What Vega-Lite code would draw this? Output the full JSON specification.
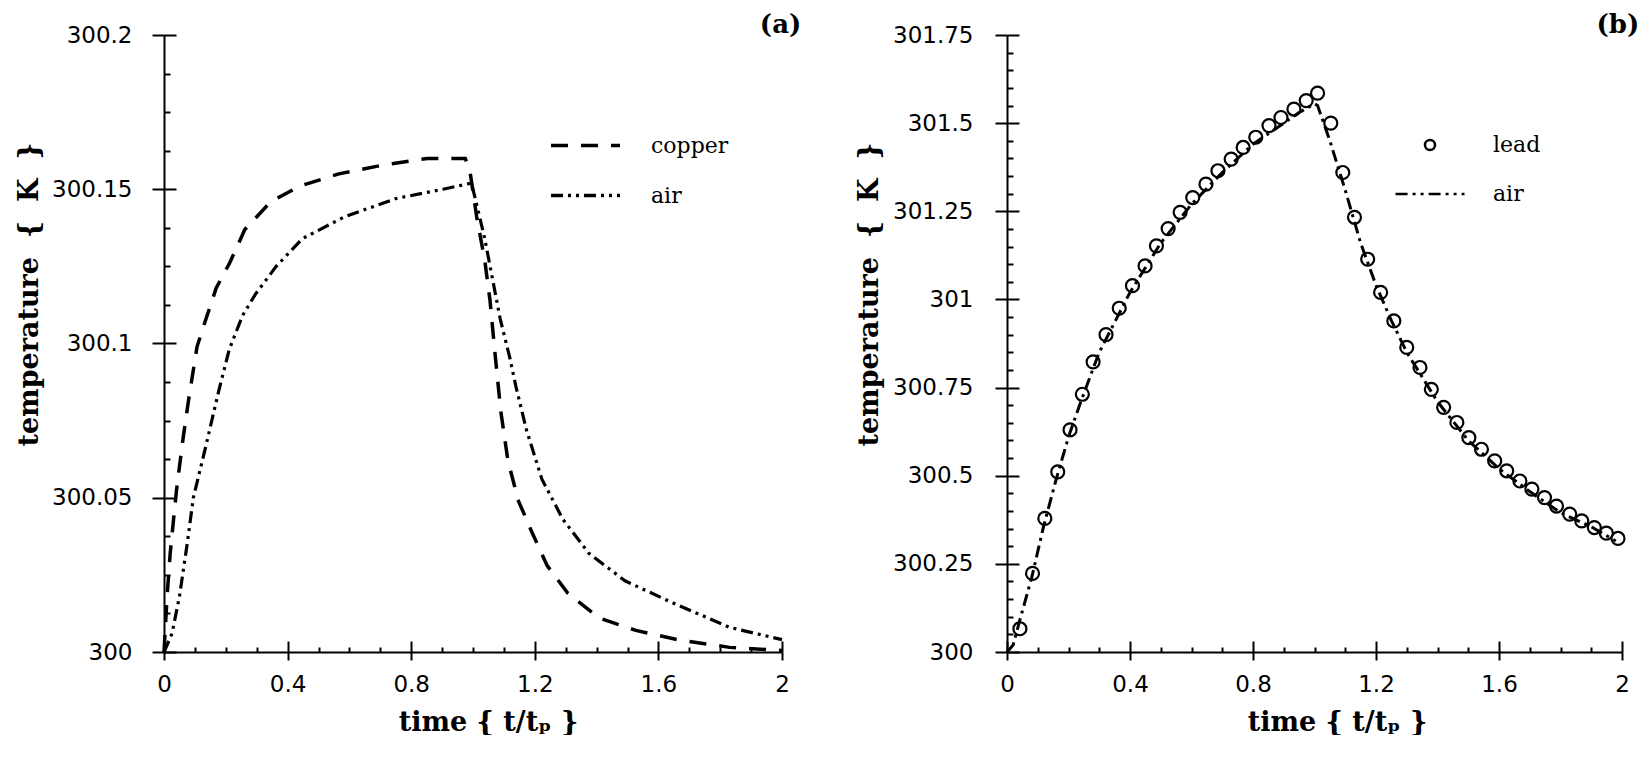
{
  "$schema": "https://vega.github.io/schema/vega-lite/v6.json",
  "background": "white",
  "padding": {"left": 14, "top": 12, "right": 0, "bottom": 0},
  "bounds": "flush",
  "spacing": 225,
  "config": {
    "view": {"stroke": null},
    "axis": {
      "grid": false,
      "domainColor": "black",
      "domainWidth": 2,
      "tickColor": "black",
      "tickWidth": 2,
      "labelColor": "black",
      "labelFont": "DejaVu Sans",
      "labelFontSize": 23,
      "labelOverlap": false,
      "labelFlush": false,
      "titleColor": "black",
      "titleFont": "DejaVu Serif",
      "titleFontWeight": "bold",
      "titleFontSize": 27
    },
    "legend": {
      "labelColor": "black",
      "labelFont": "DejaVu Serif",
      "labelFontSize": 22,
      "padding": 0
    },
    "title": {
      "font": "DejaVu Serif",
      "fontWeight": "bold",
      "fontSize": 26,
      "color": "black",
      "anchor": "end",
      "offset": -14
    }
  },
  "datasets": {
    "panelA": [
      {"series": "copper", "time": 0, "temp": 300.0},
      {"series": "copper", "time": 0.01, "temp": 300.018},
      {"series": "copper", "time": 0.02, "temp": 300.032},
      {"series": "copper", "time": 0.04, "temp": 300.052},
      {"series": "copper", "time": 0.06, "temp": 300.068},
      {"series": "copper", "time": 0.08, "temp": 300.082},
      {"series": "copper", "time": 0.107, "temp": 300.099},
      {"series": "copper", "time": 0.136, "temp": 300.108},
      {"series": "copper", "time": 0.169, "temp": 300.118},
      {"series": "copper", "time": 0.212, "temp": 300.126},
      {"series": "copper", "time": 0.262, "temp": 300.137},
      {"series": "copper", "time": 0.346, "temp": 300.146},
      {"series": "copper", "time": 0.439, "temp": 300.151},
      {"series": "copper", "time": 0.566, "temp": 300.155},
      {"series": "copper", "time": 0.717, "temp": 300.158},
      {"series": "copper", "time": 0.852, "temp": 300.16},
      {"series": "copper", "time": 0.953, "temp": 300.16},
      {"series": "copper", "time": 0.975, "temp": 300.16},
      {"series": "copper", "time": 0.99, "temp": 300.156},
      {"series": "copper", "time": 1.012, "temp": 300.141},
      {"series": "copper", "time": 1.038, "temp": 300.127},
      {"series": "copper", "time": 1.055, "temp": 300.114},
      {"series": "copper", "time": 1.07, "temp": 300.098},
      {"series": "copper", "time": 1.09, "temp": 300.078},
      {"series": "copper", "time": 1.113, "temp": 300.062},
      {"series": "copper", "time": 1.147, "temp": 300.049},
      {"series": "copper", "time": 1.19, "temp": 300.039},
      {"series": "copper", "time": 1.24, "temp": 300.028},
      {"series": "copper", "time": 1.307, "temp": 300.019},
      {"series": "copper", "time": 1.409, "temp": 300.011},
      {"series": "copper", "time": 1.527, "temp": 300.007},
      {"series": "copper", "time": 1.662, "temp": 300.004},
      {"series": "copper", "time": 1.83, "temp": 300.0015},
      {"series": "copper", "time": 2.0, "temp": 300.0005},
      {"series": "air", "time": 0, "temp": 300.0},
      {"series": "air", "time": 0.026, "temp": 300.006},
      {"series": "air", "time": 0.05, "temp": 300.018},
      {"series": "air", "time": 0.075, "temp": 300.035},
      {"series": "air", "time": 0.095, "temp": 300.05},
      {"series": "air", "time": 0.136, "temp": 300.067},
      {"series": "air", "time": 0.178, "temp": 300.085},
      {"series": "air", "time": 0.211, "temp": 300.098},
      {"series": "air", "time": 0.254, "temp": 300.109},
      {"series": "air", "time": 0.296, "temp": 300.116},
      {"series": "air", "time": 0.363, "temp": 300.125},
      {"series": "air", "time": 0.448, "temp": 300.134},
      {"series": "air", "time": 0.583, "temp": 300.141},
      {"series": "air", "time": 0.751, "temp": 300.147},
      {"series": "air", "time": 0.903, "temp": 300.15},
      {"series": "air", "time": 0.995, "temp": 300.152},
      {"series": "air", "time": 1.012, "temp": 300.145},
      {"series": "air", "time": 1.038, "temp": 300.134},
      {"series": "air", "time": 1.063, "temp": 300.121},
      {"series": "air", "time": 1.088, "temp": 300.108},
      {"series": "air", "time": 1.12, "temp": 300.095},
      {"series": "air", "time": 1.139, "temp": 300.086},
      {"series": "air", "time": 1.173, "temp": 300.072},
      {"series": "air", "time": 1.223, "temp": 300.056},
      {"series": "air", "time": 1.291, "temp": 300.043},
      {"series": "air", "time": 1.375, "temp": 300.032},
      {"series": "air", "time": 1.493, "temp": 300.023},
      {"series": "air", "time": 1.645, "temp": 300.016},
      {"series": "air", "time": 1.83, "temp": 300.008},
      {"series": "air", "time": 2.0, "temp": 300.004}
    ],
    "leadPts": [
      {"kind": "lead", "time": 0.042, "temp": 300.066},
      {"kind": "lead", "time": 0.083, "temp": 300.223},
      {"kind": "lead", "time": 0.123, "temp": 300.379},
      {"kind": "lead", "time": 0.165, "temp": 300.511},
      {"kind": "lead", "time": 0.205, "temp": 300.63},
      {"kind": "lead", "time": 0.245, "temp": 300.731},
      {"kind": "lead", "time": 0.28, "temp": 300.823},
      {"kind": "lead", "time": 0.322, "temp": 300.9},
      {"kind": "lead", "time": 0.365, "temp": 300.975},
      {"kind": "lead", "time": 0.408, "temp": 301.039},
      {"kind": "lead", "time": 0.449, "temp": 301.095},
      {"kind": "lead", "time": 0.486, "temp": 301.152},
      {"kind": "lead", "time": 0.524, "temp": 301.201},
      {"kind": "lead", "time": 0.563, "temp": 301.247},
      {"kind": "lead", "time": 0.604, "temp": 301.289},
      {"kind": "lead", "time": 0.647, "temp": 301.327},
      {"kind": "lead", "time": 0.686, "temp": 301.365},
      {"kind": "lead", "time": 0.729, "temp": 301.398},
      {"kind": "lead", "time": 0.768, "temp": 301.431},
      {"kind": "lead", "time": 0.809, "temp": 301.46},
      {"kind": "lead", "time": 0.852, "temp": 301.493},
      {"kind": "lead", "time": 0.891, "temp": 301.516},
      {"kind": "lead", "time": 0.933, "temp": 301.54},
      {"kind": "lead", "time": 0.973, "temp": 301.564},
      {"kind": "lead", "time": 1.01, "temp": 301.585},
      {"kind": "lead", "time": 1.053, "temp": 301.5},
      {"kind": "lead", "time": 1.092, "temp": 301.36},
      {"kind": "lead", "time": 1.13, "temp": 301.233},
      {"kind": "lead", "time": 1.173, "temp": 301.114},
      {"kind": "lead", "time": 1.215, "temp": 301.02},
      {"kind": "lead", "time": 1.258, "temp": 300.939},
      {"kind": "lead", "time": 1.3, "temp": 300.864},
      {"kind": "lead", "time": 1.343, "temp": 300.807},
      {"kind": "lead", "time": 1.38, "temp": 300.745},
      {"kind": "lead", "time": 1.42, "temp": 300.694},
      {"kind": "lead", "time": 1.463, "temp": 300.651},
      {"kind": "lead", "time": 1.502, "temp": 300.608},
      {"kind": "lead", "time": 1.543, "temp": 300.575},
      {"kind": "lead", "time": 1.586, "temp": 300.542},
      {"kind": "lead", "time": 1.625, "temp": 300.514},
      {"kind": "lead", "time": 1.668, "temp": 300.485},
      {"kind": "lead", "time": 1.707, "temp": 300.462},
      {"kind": "lead", "time": 1.748, "temp": 300.438},
      {"kind": "lead", "time": 1.787, "temp": 300.414},
      {"kind": "lead", "time": 1.83, "temp": 300.391},
      {"kind": "lead", "time": 1.869, "temp": 300.372},
      {"kind": "lead", "time": 1.91, "temp": 300.353},
      {"kind": "lead", "time": 1.949, "temp": 300.337},
      {"kind": "lead", "time": 1.987, "temp": 300.322}
    ],
    "airB": [
      {"kind": "air", "time": 0, "temp": 300.0},
      {"kind": "air", "time": 0.02, "temp": 300.02},
      {"kind": "air", "time": 0.04, "temp": 300.085},
      {"kind": "air", "time": 0.08, "temp": 300.21},
      {"kind": "air", "time": 0.12, "temp": 300.36},
      {"kind": "air", "time": 0.16, "temp": 300.49},
      {"kind": "air", "time": 0.2, "temp": 300.61},
      {"kind": "air", "time": 0.24, "temp": 300.71},
      {"kind": "air", "time": 0.3, "temp": 300.85},
      {"kind": "air", "time": 0.4, "temp": 301.02},
      {"kind": "air", "time": 0.5, "temp": 301.16},
      {"kind": "air", "time": 0.6, "temp": 301.27},
      {"kind": "air", "time": 0.7, "temp": 301.36},
      {"kind": "air", "time": 0.8, "temp": 301.44},
      {"kind": "air", "time": 0.9, "temp": 301.5},
      {"kind": "air", "time": 0.95, "temp": 301.53},
      {"kind": "air", "time": 1.0, "temp": 301.555},
      {"kind": "air", "time": 1.01, "temp": 301.55},
      {"kind": "air", "time": 1.05, "temp": 301.45},
      {"kind": "air", "time": 1.1, "temp": 301.31},
      {"kind": "air", "time": 1.15, "temp": 301.16},
      {"kind": "air", "time": 1.2, "temp": 301.04},
      {"kind": "air", "time": 1.25, "temp": 300.94},
      {"kind": "air", "time": 1.3, "temp": 300.85},
      {"kind": "air", "time": 1.4, "temp": 300.71},
      {"kind": "air", "time": 1.5, "temp": 300.6},
      {"kind": "air", "time": 1.6, "temp": 300.52},
      {"kind": "air", "time": 1.7, "temp": 300.455},
      {"kind": "air", "time": 1.8, "temp": 300.395},
      {"kind": "air", "time": 1.9, "temp": 300.355},
      {"kind": "air", "time": 1.98, "temp": 300.315}
    ]
  },
  "hconcat": [
    {
      "width": 618,
      "height": 617,
      "title": {"text": "(a)", "dx": 12},
      "data": {"name": "panelA"},
      "resolve": {"axis": {"x": "independent", "y": "independent"}},
      "layer": [
        {
          "transform": [{"filter": "datum.series == 'copper'"}],
          "mark": {"type": "line", "color": "black", "strokeWidth": 3.5},
          "encoding": {
            "x": {
              "field": "time", "type": "quantitative",
              "scale": {"domain": [0, 2], "nice": false, "zero": false},
              "axis": {
                "orient": "bottom",
                "values": [0, 0.4, 0.8, 1.2, 1.6, 2],
                "tickSize": 8,
                "labelPadding": 13,
                "labelExpr": "'' + datum.value",
                "title": "time\u00a0{\u00a0t/tₚ\u00a0}",
                "titleX": 324,
                "titleY": 78,
                "titleAlign": "center",
                "titleBaseline": "alphabetic"
              }
            },
            "y": {
              "field": "temp", "type": "quantitative",
              "scale": {"domain": [300, 300.2], "nice": false, "zero": false},
              "axis": {
                "orient": "left",
                "values": [300, 300.05, 300.1, 300.15, 300.2],
                "tickSize": 12,
                "labelPadding": 20,
                "labelExpr": "'' + datum.value",
                "title": "temperature\u00a0\u00a0{\u00a0\u00a0K\u00a0\u00a0}",
                "titleX": -135,
                "titleY": 259,
                "titleAngle": -90,
                "titleAlign": "center",
                "titleBaseline": "middle"
              }
            },
            "strokeDash": {
              "field": "series", "type": "nominal",
              "scale": {"domain": ["copper", "air"], "range": [[17, 13], [12, 5, 3, 5, 3, 5]]},
              "legend": {
                "orient": "none", "legendX": 385, "legendY": 74, "title": null,
                "symbolType": "stroke", "symbolSize": 4761, "symbolStrokeWidth": 3.5,
                "symbolStrokeColor": "black", "labelOffset": 29, "rowPadding": 2,
                "labelFont": "DejaVu Serif", "labelFontSize": 22, "labelColor": "black"
              }
            }
          }
        },
        {
          "transform": [{"filter": "datum.series == 'air'"}],
          "mark": {"type": "line", "color": "black", "strokeWidth": 3.2},
          "encoding": {
            "x": {
              "field": "time", "type": "quantitative",
              "axis": {
                "orient": "bottom",
                "values": [0, 0.1, 0.2, 0.3, 0.4, 0.5, 0.6, 0.7, 0.8, 0.9, 1, 1.1, 1.2, 1.3, 1.4, 1.5, 1.6, 1.7, 1.8, 1.9, 2],
                "tickSize": {"condition": {"test": "indexof([0, 0.4, 0.8, 1.2, 1.6, 2], datum.value) >= 0", "value": -11}, "value": -5},
                "labels": false,
                "domain": false,
                "title": null
              }
            },
            "y": {
              "field": "temp", "type": "quantitative",
              "axis": {
                "orient": "left",
                "values": [300, 300.0125, 300.025, 300.0375, 300.05, 300.0625, 300.075, 300.0875, 300.1, 300.1125, 300.125, 300.1375, 300.15, 300.1625, 300.175, 300.1875, 300.2],
                "tickSize": {"condition": {"test": "indexof([300, 300.05, 300.1, 300.15, 300.2], datum.value) >= 0", "value": -12}, "value": -6},
                "labels": false,
                "domain": false,
                "title": null
              }
            },
            "strokeDash": {"field": "series", "type": "nominal"}
          }
        }
      ]
    },
    {
      "width": 615,
      "height": 617,
      "title": {"text": "(b)", "dx": 10},
      "resolve": {"axis": {"x": "independent", "y": "independent"}},
      "layer": [
        {
          "data": {"name": "airB"},
          "mark": {"type": "line", "color": "black", "strokeWidth": 3, "strokeDash": [12, 5, 3, 5]},
          "encoding": {
            "x": {
              "field": "time", "type": "quantitative",
              "scale": {"domain": [0, 2], "nice": false, "zero": false},
              "axis": {
                "orient": "bottom",
                "values": [0, 0.4, 0.8, 1.2, 1.6, 2],
                "tickSize": 8,
                "labelPadding": 13,
                "labelExpr": "'' + datum.value",
                "title": "time\u00a0{\u00a0t/tₚ\u00a0}",
                "titleX": 330,
                "titleY": 78,
                "titleAlign": "center",
                "titleBaseline": "alphabetic"
              }
            },
            "y": {
              "field": "temp", "type": "quantitative",
              "scale": {"domain": [300, 301.75], "nice": false, "zero": false},
              "axis": {
                "orient": "left",
                "values": [300, 300.25, 300.5, 300.75, 301, 301.25, 301.5, 301.75],
                "tickSize": 12,
                "labelPadding": 22,
                "labelExpr": "'' + datum.value",
                "title": "temperature\u00a0\u00a0{\u00a0\u00a0K\u00a0\u00a0}",
                "titleX": -138,
                "titleY": 259,
                "titleAngle": -90,
                "titleAlign": "center",
                "titleBaseline": "middle"
              }
            }
          }
        },
        {
          "data": {"name": "leadPts"},
          "mark": {"type": "point", "filled": false, "color": "black", "strokeWidth": 2.2, "size": 8030, "opacity": 1},
          "encoding": {
            "x": {
              "field": "time", "type": "quantitative",
              "axis": {
                "orient": "bottom",
                "values": [0, 0.1, 0.2, 0.3, 0.4, 0.5, 0.6, 0.7, 0.8, 0.9, 1, 1.1, 1.2, 1.3, 1.4, 1.5, 1.6, 1.7, 1.8, 1.9, 2],
                "tickSize": {"condition": {"test": "indexof([0, 0.4, 0.8, 1.2, 1.6, 2], datum.value) >= 0", "value": -11}, "value": -5},
                "labels": false,
                "domain": false,
                "title": null
              }
            },
            "y": {
              "field": "temp", "type": "quantitative",
              "axis": {
                "orient": "left",
                "values": [300, 300.05, 300.1, 300.15, 300.2, 300.25, 300.3, 300.35, 300.4, 300.45, 300.5, 300.55, 300.6, 300.65, 300.7, 300.75, 300.8, 300.85, 300.9, 300.95, 301, 301.05, 301.1, 301.15, 301.2, 301.25, 301.3, 301.35, 301.4, 301.45, 301.5, 301.55, 301.6, 301.65, 301.7, 301.75],
                "tickSize": {"condition": {"test": "indexof([300, 300.25, 300.5, 300.75, 301, 301.25, 301.5, 301.75], datum.value) >= 0", "value": -12}, "value": -6},
                "labels": false,
                "domain": false,
                "title": null
              }
            },
            "shape": {
              "field": "kind", "type": "nominal",
              "scale": {
                "domain": ["lead", "air"],
                "range": [
                  "M0.145,0A0.145,0.145,0,1,1,-0.145,0A0.145,0.145,0,1,1,0.145,0Z",
                  "M-1,0H-0.65M-0.505,0H-0.418M-0.273,0H-0.186M-0.041,0H0.307M0.452,0H0.539M0.684,0H0.771M0.916,0H1"
                ]
              },
              "legend": {
                "orient": "none", "legendX": 1230, "legendY": 74, "title": null,
                "symbolSize": 4761, "symbolStrokeWidth": 2.5, "symbolStrokeColor": "black",
                "symbolFillColor": "transparent", "labelOffset": 27, "rowPadding": 2,
                "labelFont": "DejaVu Serif", "labelFontSize": 22, "labelColor": "black"
              }
            }
          }
        }
      ]
    }
  ]
}
